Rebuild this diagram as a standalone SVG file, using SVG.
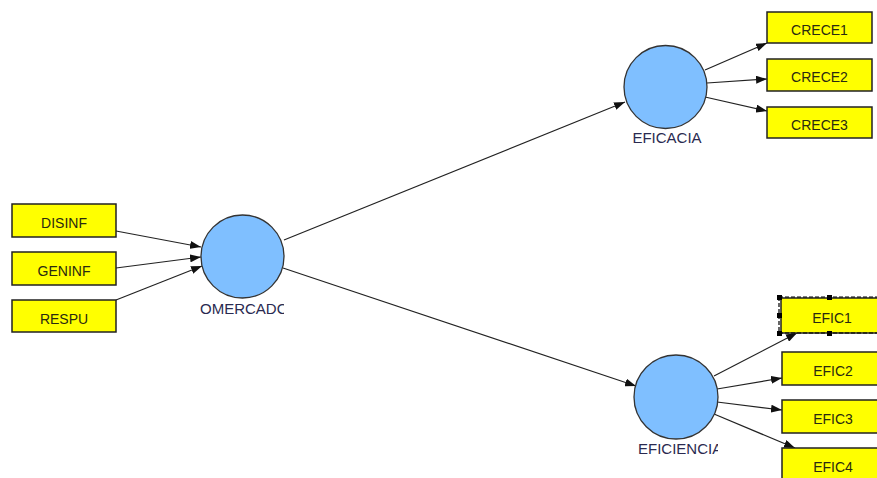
<svg xmlns="http://www.w3.org/2000/svg" width="877" height="478" viewBox="0 0 877 478">
<style>
.box{fill:#ffff00;stroke:#222;stroke-width:1.5}
.lv{fill:#7fbfff;stroke:#333;stroke-width:1.3}
.bt{font-family:"Liberation Sans",Arial,sans-serif;font-size:14px;fill:#2a2a10;text-anchor:middle}
.lt{font-family:"Liberation Sans",Arial,sans-serif;font-size:15px;fill:#2a2a50;text-anchor:middle}
.ln{stroke:#222;stroke-width:1.2;fill:none;marker-end:url(#ah)}
.hd{fill:#000}
</style>
<defs>
<marker id="ah" markerUnits="userSpaceOnUse" markerWidth="11" markerHeight="8" refX="11" refY="4" orient="auto">
<path d="M0,0 L11,4 L0,8 z" fill="#111"/>
</marker>
<clipPath id="c1"><rect x="180" y="295" width="104" height="25"/></clipPath>
<clipPath id="c2"><rect x="620" y="435" width="98" height="25"/></clipPath>
</defs>
<rect width="877" height="478" fill="#fff"/>
<g id="connectors">
<line class="ln" x1="116" y1="231" x2="201" y2="247"/>
<line class="ln" x1="116" y1="268" x2="201" y2="257"/>
<line class="ln" x1="116" y1="300" x2="202" y2="266"/>
<line class="ln" x1="284" y1="240" x2="625" y2="102"/>
<line class="ln" x1="283" y1="268" x2="636" y2="386"/>
<line class="ln" x1="705" y1="70" x2="767" y2="43"/>
<line class="ln" x1="707" y1="83" x2="767" y2="79"/>
<line class="ln" x1="705" y1="97" x2="767" y2="111"/>
<line class="ln" x1="714" y1="376" x2="797" y2="333"/>
<line class="ln" x1="717" y1="389" x2="782" y2="378"/>
<line class="ln" x1="717" y1="402" x2="782" y2="410"/>
<line class="ln" x1="714" y1="414" x2="795" y2="448"/>
</g>
<g id="DISINF"><rect class="box" x="12" y="204" width="104" height="33"/><text class="bt" x="64" y="228">DISINF</text></g>
<g id="GENINF"><rect class="box" x="12" y="252" width="104" height="33"/><text class="bt" x="64" y="276">GENINF</text></g>
<g id="RESPU"><rect class="box" x="12" y="300" width="104" height="32"/><text class="bt" x="64" y="324">RESPU</text></g>
<g id="OMERCADO"><circle class="lv" cx="242.5" cy="256.5" r="41.5"/><text class="lt" x="200" y="314" style="text-anchor:start" clip-path="url(#c1)">OMERCADO</text></g>
<g id="EFICACIA"><circle class="lv" cx="665.5" cy="87" r="41.5"/><text class="lt" x="667" y="143">EFICACIA</text></g>
<g id="EFICIENCIA"><circle class="lv" cx="676" cy="397" r="42"/><text class="lt" x="638" y="454" style="text-anchor:start" clip-path="url(#c2)">EFICIENCIA</text></g>
<g id="CRECE1"><rect class="box" x="767" y="12" width="105" height="31"/><text class="bt" x="819.5" y="35">CRECE1</text></g>
<g id="CRECE2"><rect class="box" x="767" y="59" width="105" height="32"/><text class="bt" x="819.5" y="82">CRECE2</text></g>
<g id="CRECE3"><rect class="box" x="767" y="107" width="105" height="31"/><text class="bt" x="819.5" y="130">CRECE3</text></g>
<g id="EFIC1"><rect class="box" x="781" y="298" width="104" height="35"/><text class="bt" x="832" y="323">EFIC1</text>
<path d="M779,297 H877 M779,297 V333 H877" fill="none" stroke="#000" stroke-width="1.2" stroke-dasharray="4,2"/>
<rect class="hd" x="777" y="295" width="5" height="5"/><rect class="hd" x="827" y="295" width="5" height="5"/><rect class="hd" x="777" y="313" width="5" height="5"/><rect class="hd" x="777" y="331" width="5" height="5"/><rect class="hd" x="827" y="331" width="5" height="5"/></g>
<g id="EFIC2"><rect class="box" x="782" y="352" width="104" height="33"/><text class="bt" x="833" y="376">EFIC2</text></g>
<g id="EFIC3"><rect class="box" x="782" y="400" width="104" height="33"/><text class="bt" x="833" y="424">EFIC3</text></g>
<g id="EFIC4"><rect class="box" x="782" y="448" width="104" height="40"/><text class="bt" x="833" y="472">EFIC4</text></g>
</svg>
